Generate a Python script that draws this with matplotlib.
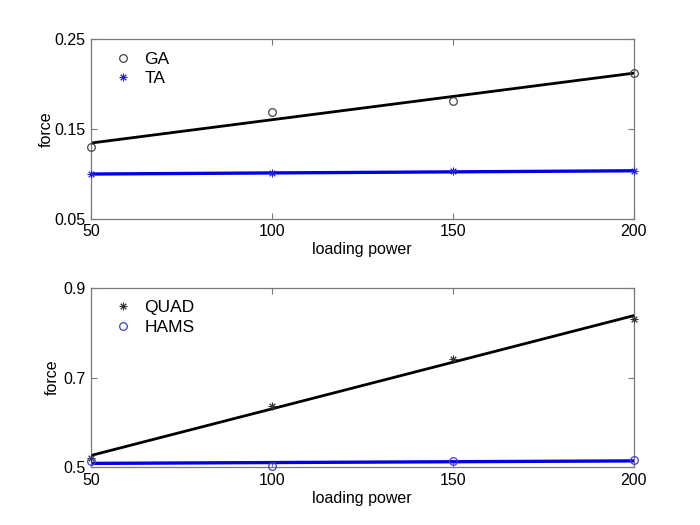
import numpy as np
import matplotlib
matplotlib.use("Agg")
import matplotlib.pyplot as plt

plt.rcParams['font.family'] = ['Liberation Sans', 'DejaVu Sans']

loading = [50, 100, 150, 200]
ga = [0.130, 0.169, 0.1815, 0.2125]
ta = [0.0995, 0.1004, 0.1035, 0.1025]
quad = [0.520, 0.6365, 0.741, 0.832]
hams = [0.5135, 0.5025, 0.5136, 0.516]

top_yticks = [0.05, 0.15, 0.25]
bot_yticks = [0.5, 0.7, 0.9]
xticks = [50, 100, 150, 200]

AX_COLOR = '#7a7a7a'
STAR = (8, 2, 0)

fig = plt.figure(figsize=(7, 5.25), dpi=100)
ax1 = fig.add_axes([0.13, 0.5838, 0.775, 0.3412])
ax2 = fig.add_axes([0.13, 0.11, 0.775, 0.3412])


def fitline(ax, x, y, color, lw):
    c = np.polyfit(x, y, 1)
    xs = np.array([x[0], x[-1]])
    ax.plot(xs, np.polyval(c, xs), color=color, lw=lw, zorder=2)


def style(ax, yticks, ylim, ylabelpad):
    ax.set_xlim(50, 200)
    ax.set_ylim(*ylim)
    ax.set_xticks(xticks)
    ax.set_yticks(yticks)
    ax.set_yticklabels([f"{t:g}" for t in yticks])
    ax.tick_params(direction='in', length=4, width=0.8, colors=AX_COLOR,
                   labelcolor='black', labelsize=11.5, top=True, right=True, pad=4)
    for s in ax.spines.values():
        s.set_color(AX_COLOR)
        s.set_linewidth(0.9)
    ax.set_xlabel('loading power', fontsize=11.5, labelpad=2)
    ax.set_ylabel('force', fontsize=11.5, labelpad=ylabelpad)


# top panel
ax1.plot(loading, ga, linestyle='none', marker='o', mfc='none', mec='#444444',
         ms=5.5, mew=0.9, label='GA', zorder=3, clip_on=False)
ax1.plot(loading, ta, linestyle='none', marker=STAR, color='#2020d0',
         ms=5.5, mew=0.7, label='TA', zorder=3, clip_on=False)
fitline(ax1, loading, ga, 'black', 2.0)
fitline(ax1, loading, ta, '#0000e0', 2.4)
style(ax1, top_yticks, (0.05, 0.25), 0.5)

# bottom panel
ax2.plot(loading, quad, linestyle='none', marker=STAR, color='#333333',
         ms=5.5, mew=0.7, label='QUAD', zorder=3, clip_on=False)
ax2.plot(loading, hams, linestyle='none', marker='o', mfc='none', mec='#4040c8',
         ms=5.5, mew=0.9, label='HAMS', zorder=3, clip_on=False)
fitline(ax2, loading, quad, 'black', 2.0)
fitline(ax2, loading, hams, '#0000e0', 2.4)
style(ax2, bot_yticks, (0.5, 0.9), 2.5)

for ax in (ax1, ax2):
    ax.legend(loc='upper left', frameon=False, fontsize=12.5, handlelength=1.0,
              handletextpad=0.75, borderaxespad=0.3, labelspacing=0.25,
              bbox_to_anchor=(0.02, 1.0))

fig.savefig('out.png', dpi=100)
